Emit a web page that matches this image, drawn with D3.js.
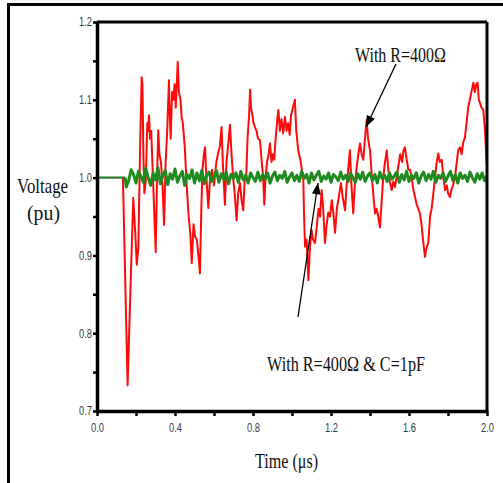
<!DOCTYPE html>
<html>
<head>
<meta charset="utf-8">
<script src="https://d3js.org/d3.v7.min.js"></script>
<style>
  body { margin: 0; background: #fff; }
  svg { display: block; }
</style>
</head>
<body>
<script>
// ---- data ----
var yTicks = [0.7, 0.75, 0.8, 0.85, 0.9, 0.95, 1.0, 1.05, 1.1, 1.15, 1.2]
var yLabels = {0.7: "0.7", 0.8: "0.8", 0.9: "0.9", 1.0: "1.0", 1.1: "1.1", 1.2: "1.2"}
var xTicks = [0, 0.2, 0.4, 0.6, 0.8, 1.0, 1.2, 1.4, 1.6, 1.8, 2.0]
var xLabels = {0: "0.0", 0.4: "0.4", 0.8: "0.8", 1.2: "1.2", 1.6: "1.6", 2: "2.0"}

// With R=400Ω (red) - hidden under the green trace before the disturbance
var redTime = [0.133, 0.157, 0.172, 0.186, 0.196, 0.204, 0.212, 0.222, 0.229, 0.233, 0.238, 0.243, 0.25,
  0.258, 0.262, 0.267, 0.272, 0.278, 0.29, 0.301, 0.308, 0.314, 0.32, 0.328, 0.336, 0.344, 0.352, 0.36,
  0.369, 0.372, 0.378, 0.385, 0.392, 0.398, 0.404, 0.414, 0.42, 0.428, 0.434, 0.44, 0.45, 0.46, 0.47,
  0.478, 0.486, 0.495, 0.503, 0.512, 0.52, 0.528, 0.535, 0.541, 0.548, 0.554, 0.561, 0.571, 0.58, 0.59,
  0.6, 0.612, 0.62, 0.63, 0.639, 0.645, 0.656, 0.664, 0.672, 0.682, 0.69, 0.698, 0.706, 0.716, 0.724,
  0.733, 0.742, 0.75, 0.758, 0.765, 0.772, 0.78, 0.785, 0.79, 0.797, 0.803, 0.81, 0.818, 0.826, 0.836,
  0.845, 0.852, 0.858, 0.864, 0.872, 0.88, 0.887, 0.895, 0.902, 0.909, 0.916, 0.923, 0.93, 0.938, 0.946,
  0.955, 0.964, 0.972, 0.98, 0.988, 0.995, 1.005, 1.015, 1.022, 1.032, 1.045, 1.058, 1.062, 1.067, 1.075,
  1.084, 1.092, 1.1, 1.108, 1.118, 1.128, 1.136, 1.144, 1.152, 1.16, 1.169, 1.178, 1.186, 1.195, 1.204,
  1.212, 1.221, 1.23, 1.24, 1.251, 1.26, 1.272, 1.28, 1.288, 1.297, 1.305, 1.314, 1.322, 1.332, 1.34,
  1.349, 1.357, 1.366, 1.374, 1.383, 1.39, 1.4, 1.41, 1.418, 1.426, 1.434, 1.442, 1.451, 1.46, 1.468,
  1.477, 1.486, 1.494, 1.502, 1.511, 1.52, 1.528, 1.536, 1.545, 1.555, 1.565, 1.572, 1.579, 1.59, 1.597,
  1.605, 1.614, 1.622, 1.631, 1.64, 1.648, 1.656, 1.664, 1.672, 1.682, 1.69, 1.699, 1.708, 1.716, 1.725,
  1.733, 1.742, 1.75, 1.758, 1.768, 1.776, 1.785, 1.794, 1.8, 1.81, 1.818, 1.826, 1.836, 1.845, 1.852,
  1.862, 1.87, 1.878, 1.887, 1.895, 1.904, 1.912, 1.92, 1.93, 1.938, 1.945, 1.952, 1.958, 1.964, 1.972,
  1.981, 1.99, 1.998]
var redVolt = [1.0, 0.733, 0.86, 0.974, 0.93, 0.888, 0.91, 1.05, 1.129, 1.12, 1.03, 0.98, 0.995,
  1.07, 1.06, 1.08, 1.05, 1.06, 0.98, 0.904, 1.0, 1.061, 1.03, 1.02, 0.99, 0.939, 1.02, 1.06,
  1.125, 1.09, 1.05, 1.11, 1.10, 1.12, 1.09, 1.149, 1.11, 1.10, 1.078, 1.07, 1.04, 0.99, 0.95,
  0.93, 0.89, 0.94, 0.924, 0.92, 0.9, 0.877, 0.96, 1.01, 1.03, 1.039, 1.0, 0.961, 1.0, 1.01,
  0.99, 1.02, 1.03, 1.04, 1.065, 1.02, 0.965, 1.02, 1.04, 1.068, 1.03, 1.0, 0.98, 0.945, 0.98,
  0.993, 0.97, 0.958, 1.0, 1.0, 1.05, 1.08, 1.113, 1.09, 1.08, 1.07, 1.065, 1.06, 1.05, 1.048,
  1.02, 1.0, 0.965, 1.0, 1.02, 1.03, 1.044, 1.02, 1.03, 1.023, 1.05, 1.07, 1.087, 1.06, 1.075,
  1.057, 1.078, 1.06, 1.07, 1.055, 1.08, 1.09, 1.1, 1.06, 1.035, 1.02, 0.997, 0.95, 0.911, 0.92,
  0.868, 0.91, 0.933, 0.92, 0.916, 0.94, 0.96, 0.95, 0.984, 0.96, 0.916, 0.94, 0.955, 0.95, 0.971,
  0.955, 0.929, 0.96, 0.975, 0.993, 0.975, 0.958, 0.99, 1.01, 1.035, 0.99, 0.954, 0.99, 1.014, 1.03,
  1.044, 1.03, 1.023, 1.05, 1.074, 1.05, 1.035, 1.0, 0.975, 0.954, 0.96, 0.95, 0.936, 0.97, 1.001,
  1.02, 1.035, 1.01, 0.995, 0.984, 0.995, 0.988, 1.0, 1.014, 1.03, 1.02, 1.035, 1.039, 1.02, 1.01,
  1.01, 1.0, 0.985, 0.975, 0.965, 0.96, 0.954, 0.94, 0.92, 0.898, 0.91, 0.916, 0.95, 0.96, 0.98,
  1.0, 1.02, 1.031, 1.02, 1.023, 1.0, 0.984, 0.99, 0.98, 0.975, 0.985, 0.99, 1.001, 1.02, 1.035,
  1.039, 1.03, 1.045, 1.052, 1.07, 1.091, 1.1, 1.11, 1.122, 1.11, 1.12, 1.122, 1.1, 1.096, 1.09,
  1.087, 1.06, 1.019]

// With R=400Ω & C=1pF (green)
var greenFlatTime = [0, 0.145]
var greenFlatVolt = [1.0, 1.0]
var greenStart = 0.15, greenStep = 0.0125
var greenVolt = [
  0.988, 0.996, 1.010, 1.004, 0.993, 1.008, 1.002, 0.994, 1.012, 1.000,
  0.990, 1.006, 0.997, 1.013, 0.992, 1.003, 1.009, 0.991, 1.005, 0.998,
  1.011, 0.994, 1.002, 1.008, 0.990, 1.004, 0.999, 1.010, 0.993, 1.006,
  0.996, 1.009, 0.992, 1.003, 1.007, 0.995, 1.001, 1.009, 0.994, 1.005,
  0.998, 1.007, 0.992, 1.004, 0.999, 1.006, 0.994, 1.008, 0.997, 1.003,
  0.993, 1.006, 1.000, 0.995, 1.007, 0.996, 1.004, 0.998, 1.006, 0.993,
  1.002, 1.007, 0.996, 1.003, 0.999, 1.008, 0.994, 1.001, 1.006, 0.996,
  1.003, 0.995, 1.008, 0.999, 1.004, 0.993, 1.006, 0.997, 1.003, 1.008,
  0.995, 1.002, 0.998, 1.006, 0.994, 1.004, 1.001, 0.996, 1.007, 0.998,
  1.003, 0.995, 1.006, 1.000, 0.994, 1.005, 0.998, 1.007, 0.995, 1.002,
  1.006, 0.996, 1.004, 0.993, 1.007, 0.999, 1.003, 0.995, 1.006, 0.998,
  1.002, 1.007, 0.994, 1.004, 0.997, 1.008, 0.995, 1.003, 0.999, 1.006,
  0.993, 1.002, 1.007, 0.996, 1.004, 0.998, 1.008, 0.994, 1.003, 0.999,
  1.006, 0.995, 1.002, 1.008, 0.996, 1.004, 0.993, 1.006, 0.999, 1.003,
  0.995, 1.007, 1.000, 0.994, 1.005, 0.998, 1.006, 0.996, 1.002]

// ---- layout ----
var W = 503, H = 483
var marginLeft = 97, marginTop = 22, plotW = 390, plotH = 389

var svg = d3.select("body").append("svg")
    .attr("width", W)
    .attr("height", H)

svg.append("rect").attr("width", W).attr("height", H).attr("fill", "#fff")

// outer page frame (top + left)
svg.append("line").attr("x1", 7).attr("y1", 4.5).attr("x2", W).attr("y2", 4.5)
    .attr("stroke", "#000").attr("stroke-width", 3)
svg.append("line").attr("x1", 8.5).attr("y1", 3).attr("x2", 8.5).attr("y2", H)
    .attr("stroke", "#000").attr("stroke-width", 3)

var x = d3.scaleLinear().domain([0, 2.0]).range([marginLeft, marginLeft + plotW])
var y = d3.scaleLinear().domain([0.7, 1.2]).range([marginTop + plotH, marginTop])

var line = d3.line()
    .x(function(d) { return x(d[0]) })
    .y(function(d) { return y(d[1]) })

// red series
var redData = redTime.map(function(t, i) { return [t, redVolt[i]] })
svg.append("path")
    .datum(redData)
    .attr("d", line)
    .attr("fill", "none")
    .attr("stroke", "#ff0a0a")
    .attr("stroke-width", 2)
    .attr("stroke-linejoin", "round")

// green series
var greenFlat = greenFlatTime.map(function(t, i) { return [t, greenFlatVolt[i]] })
var greenData = [[greenFlatTime[1], greenFlatVolt[1]]].concat(
    greenVolt.map(function(v, i) { return [greenStart + i * greenStep, v] }))
svg.append("path")
    .datum(greenFlat)
    .attr("d", line)
    .attr("fill", "none")
    .attr("stroke", "#2a7a2a")
    .attr("stroke-width", 2.2)
svg.append("path")
    .datum(greenData)
    .attr("d", line)
    .attr("fill", "none")
    .attr("stroke", "#1f8a1f")
    .attr("stroke-width", 3)
    .attr("stroke-linejoin", "round")

// ---- axes ----
var tickFont = "'Liberation Sans', sans-serif"

var yAxis = d3.axisLeft(y)
    .tickValues(yTicks)
    .tickSize(4)
    .tickSizeOuter(0)
    .tickPadding(1)
    .tickFormat(function(d) { return yLabels[Math.round(d * 100) / 100] || "" })
var gy = svg.append("g").attr("transform", "translate(" + marginLeft + ",0)").call(yAxis)

var xAxis = d3.axisBottom(x)
    .tickValues(xTicks)
    .tickSize(5)
    .tickSizeOuter(0)
    .tickPadding(7)
    .tickFormat(function(d) { return xLabels[Math.round(d * 10) / 10] || "" })
var gx = svg.append("g").attr("transform", "translate(0," + (marginTop + plotH) + ")").call(xAxis)

;[gx, gy].forEach(function(g) {
  g.select(".domain").attr("stroke", "#000").attr("stroke-width", 3.5)
  g.selectAll(".tick line").attr("stroke", "#000").attr("stroke-width", 2.5)
  g.selectAll(".tick text")
      .attr("fill", "#3a3a3a")
      .style("font-family", tickFont)
      .style("font-size", "12px")
      .filter(function() { return this.textContent !== "" })
      .attr("textLength", 13)
      .attr("lengthAdjust", "spacingAndGlyphs")
})

// top and right frame
svg.append("line").attr("x1", marginLeft).attr("y1", marginTop).attr("x2", marginLeft + plotW).attr("y2", marginTop)
    .attr("stroke", "#000").attr("stroke-width", 3)
svg.append("line").attr("x1", marginLeft + plotW).attr("y1", marginTop).attr("x2", marginLeft + plotW).attr("y2", marginTop + plotH)
    .attr("stroke", "#000").attr("stroke-width", 3)

// ---- labels ----
var serif = "'Liberation Serif', 'Times New Roman', serif"

function label(txt, xx, yy, size, len) {
  var t = svg.append("text")
      .attr("x", xx).attr("y", yy)
      .attr("font-family", serif)
      .attr("font-size", size)
      .attr("fill", "#111")
      .text(txt)
  if (len) t.attr("textLength", len).attr("lengthAdjust", "spacingAndGlyphs")
  return t
}

label("Voltage", 17, 193, 21, 51)
label("(pu)", 27, 220, 21, 33)
label("Time (\u03bcs)", 255, 468, 21, 63)
label("With R=400\u03a9", 355, 62, 22, 91)
label("With R=400\u03a9 & C=1pF", 267, 371, 22, 158)

// arrows
var defs = svg.append("defs")
defs.append("marker")
    .attr("id", "head")
    .attr("markerUnits", "userSpaceOnUse")
    .attr("viewBox", "0 0 10 8")
    .attr("refX", 10).attr("refY", 4)
    .attr("markerWidth", 12).attr("markerHeight", 9)
    .attr("orient", "auto")
  .append("path")
    .attr("d", "M0,0 L10,4 L0,8 Z")
    .attr("fill", "#000")

svg.append("line")
    .attr("x1", 396).attr("y1", 64).attr("x2", 366).attr("y2", 127)
    .attr("stroke", "#000").attr("stroke-width", 1.3)
    .attr("marker-end", "url(#head)")
svg.append("line")
    .attr("x1", 298).attr("y1", 317).attr("x2", 318).attr("y2", 183)
    .attr("stroke", "#000").attr("stroke-width", 1.3)
    .attr("marker-end", "url(#head)")
</script>
</body>
</html>
